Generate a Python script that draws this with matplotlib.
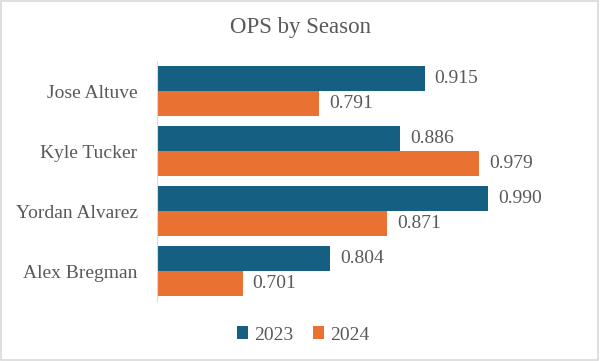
import matplotlib.pyplot as plt
from matplotlib.patches import Rectangle
import numpy as np

# data
players = ['Jose Altuve', 'Kyle Tucker', 'Yordan Alvarez', 'Alex Bregman']
ops_2023 = [0.915, 0.886, 0.990, 0.804]
ops_2024 = [0.791, 0.979, 0.871, 0.701]
seasons = ['2023', '2024']

BLUE = '#156082'
ORANGE = '#E97132'
TXT = '#595959'

plt.rcParams['font.family'] = ['Liberation Serif', 'DejaVu Serif']

fig = plt.figure(figsize=(6, 3.61), dpi=100)
ax = fig.add_axes([157 / 600, 1 - 301 / 361, 425 / 600, 240 / 361])

y = np.arange(len(players))
h = 25 / 60
ax.barh(y - h / 2, ops_2023, height=h, left=0, color=BLUE, label=seasons[0])
ax.barh(y + h / 2, ops_2024, height=h, left=0, color=ORANGE, label=seasons[1])

for yi, v in zip(y - h / 2, ops_2023):
    ax.annotate(f'{v:.3f}', (v, yi), xytext=(7, 0), textcoords='offset points',
                va='center', ha='left', fontsize=14, color=TXT)
for yi, v in zip(y + h / 2, ops_2024):
    ax.annotate(f'{v:.3f}', (v, yi), xytext=(7, 0), textcoords='offset points',
                va='center', ha='left', fontsize=14, color=TXT)

ax.set_xlim(0.6, 1.1)
ax.set_ylim(len(players) - 0.5, -0.5)
ax.set_yticks(y)
ax.set_yticklabels(players, fontsize=14, color=TXT)
ax.tick_params(axis='y', length=0, pad=14)
ax.set_xticks([])
for s in ['top', 'right', 'bottom']:
    ax.spines[s].set_visible(False)
ax.spines['left'].set_color('#d9d9d9')
ax.spines['left'].set_linewidth(0.8)

fig.text(0.5, 1 - 27 / 361, 'OPS by Season', ha='center', va='center',
         fontsize=16.5, color=TXT)

fig.legend(loc='center', bbox_to_anchor=(303 / 600, 1 - 335 / 361), ncol=2,
           frameon=False, fontsize=14, handlelength=0.6, handleheight=0.6,
           handletextpad=0.3, columnspacing=1.0, labelcolor=TXT)

fig.patches.append(Rectangle((0.002, 0.003), 0.995, 0.993, transform=fig.transFigure,
                             fill=False, edgecolor='#d9d9d9', linewidth=1.2))

fig.savefig('out.png', dpi=100)
